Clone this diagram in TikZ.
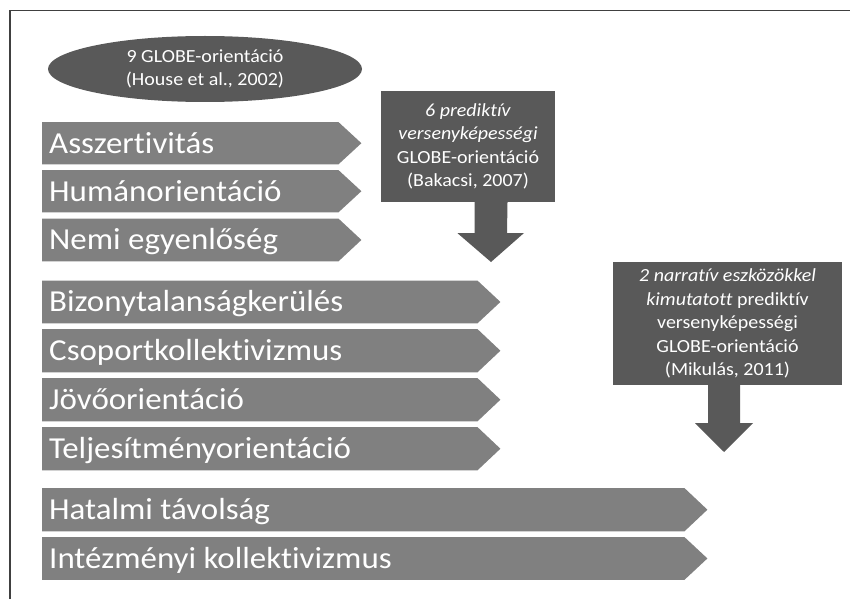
\documentclass[tikz,border=0pt]{standalone}
\usepackage{fontspec}
\setmainfont{Carlito}[FakeStretch=1.08, Ligatures={NoCommon,NoContextual}]
\usetikzlibrary{shapes.geometric}
\definecolor{bargray}{HTML}{808080}
\definecolor{darkbox}{HTML}{595959}
\definecolor{framegray}{HTML}{404040}
\tikzset{
  barbody/.style={draw=none, inner sep=0pt, anchor=north west},
  barlabel/.style={text=white, inner sep=0pt, font=\fontsize{30.5}{35}\selectfont},
  infobox/.style={fill=darkbox, text=white, align=center, inner sep=0pt,
    font=\fontsize{18.5}{23.5}\selectfont},
  downarrow/.style={fill=darkbox, draw=none},
}
\newcommand\chevbar[5]{%
  \node[barbody, minimum width={#4-65}, minimum height=#3] (#1) at (42,#2) {};
  \fill[bargray] (#1.north west) -- (#1.north east) -- ([xshift=23pt]#1.east)
     -- (#1.south east) -- (#1.south west) -- cycle;
  \node[barlabel, anchor=base west] (#1-t) at ([xshift=7pt, yshift=-10pt]#1.west) {#5};
}
\begin{document}
\begin{tikzpicture}[x=1pt,y=-1pt]
\useasboundingbox (0,0) rectangle (850,599);
% frame
\coordinate (fa) at (10,599);
\coordinate (fb) at (10,10.5);
\coordinate (fc) at (850,10.5);
\draw[framegray, line width=1.6pt] (fa) -- (fb) -- (fc);

% ellipse
\node[infobox, ellipse, minimum width=314pt, minimum height=66pt] (ell) at (205,69)
  {9 GLOBE-orientáció\\(House et al., 2002)};

% bars
\chevbar{b1}{122}{42}{361}{Asszertivitás}
\chevbar{b2}{170}{42}{361}{Humánorientáció}
\chevbar{b3}{218.5}{42.5}{361}{Nemi egyenlőség}
\chevbar{b4}{280.5}{42.5}{500}{Bizonytalanságkerülés}
\chevbar{b5}{329}{43}{500}{Csoportkollektivizmus}
\chevbar{b6}{378}{43}{500}{Jövőorientáció}
\chevbar{b7}{427}{43}{500}{Teljesítményorientáció}
\chevbar{b8}{488}{43}{707}{Hatalmi távolság}
\chevbar{b9}{537}{42.5}{707}{Intézményi kollektivizmus}

% box 1
\node[infobox, minimum width=174pt, minimum height=111pt] (box1) at (468,146.5)
  {\textit{6 prediktív}\\\textit{versenyképességi}\\GLOBE-orientáció\\(Bakacsi, 2007)};
\coordinate (tip1) at (491,262);
\fill[downarrow] ([xshift=6.5pt]box1.south) -- ++(0,31) -- ++(-17,0) -- (tip1)
  -- ++(33,-29) -- ++(-17,0) -- ([xshift=39.5pt]box1.south) -- cycle;

% box 2
\node[infobox, minimum width=229pt, minimum height=123pt] (box2) at (727.5,323.5)
  {\textit{2 narratív eszközökkel}\\\textit{kimutatott} prediktív\\versenyképességi\\GLOBE-orientáció\\(Mikulás, 2011)};
\coordinate (tip2) at (724,452);
\fill[downarrow] ([xshift=-19.5pt]box2.south) -- ++(0,38) -- ++(-13,0) -- (tip2)
  -- ++(29,-29) -- ++(-13,0) -- ([xshift=12.5pt]box2.south) -- cycle;
\end{tikzpicture}
\end{document}
